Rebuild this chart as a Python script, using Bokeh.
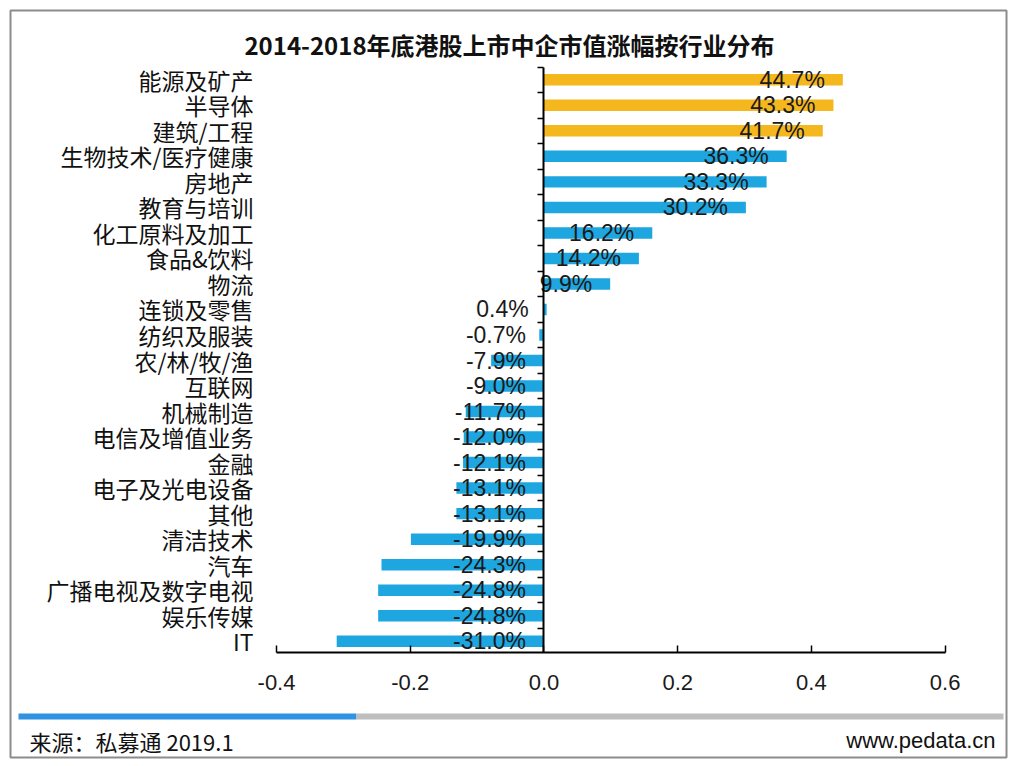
from bokeh.plotting import figure
from bokeh.models import (LinearAxis, FixedTicker, PrintfTickFormatter, Label,
                          BoxAnnotation, ColumnDataSource, Range1d)
from bokeh.core.properties import value
from bokeh.embed import file_html
from bokeh.resources import INLINE

# ---------------- data ----------------
categories = ["能源及矿产", "半导体", "建筑/工程", "生物技术/医疗健康", "房地产",
              "教育与培训", "化工原料及加工", "食品&饮料", "物流", "连锁及零售",
              "纺织及服装", "农/林/牧/渔", "互联网", "机械制造", "电信及增值业务",
              "金融", "电子及光电设备", "其他", "清洁技术", "汽车",
              "广播电视及数字电视", "娱乐传媒", "IT"]
growth_pct = [44.7, 43.3, 41.7, 36.3, 33.3, 30.2, 16.2, 14.2, 9.9, 0.4,
              -0.7, -7.9, -9.0, -11.7, -12.0, -12.1, -13.1, -13.1, -19.9, -24.3,
              -24.8, -24.8, -31.0]
highlighted = ["能源及矿产", "半导体", "建筑/工程"]
x_ticks = [-0.4, -0.2, 0.0, 0.2, 0.4, 0.6]
title_text = "2014-2018年底港股上市中企市值涨幅按行业分布"
source_text = "来源：私募通 2019.1"
site_text = "www.pedata.cn"

ORANGE = "#F5B71E"
BLUE = "#1DA6E0"
CJK = "Noto Sans CJK SC"
LAT = "Liberation Sans"

n = len(categories)
ypos = [n - 1 - i for i in range(n)]
vals = [v / 100.0 for v in growth_pct]
colors = [ORANGE if c in highlighted else BLUE for c in categories]
label_x = [max(v, 0.0) for v in vals]
label_txt = ["%.1f%%" % v for v in growth_pct]

src = ColumnDataSource(dict(y=ypos, v=vals, color=colors, lx=label_x, lt=label_txt))

p = figure(width=1012, height=762, output_backend="svg", toolbar_location=None,
           x_axis_type=None, y_axis_type=None,
           x_range=Range1d(-0.7979, 0.6918), y_range=Range1d(-4.557, 24.716),
           min_border_left=10, min_border_right=6, min_border_top=10, min_border_bottom=5)
p.outline_line_color = "#8c8c8c"
p.outline_line_width = 2
p.background_fill_color = "white"
p.border_fill_color = "white"

p.hbar(y="y", left=0, right="v", height=0.45, fill_color="color", line_color=None, source=src)
p.text(x="lx", y="y", text="lt", source=src, x_offset=-18, text_align="right",
       text_baseline="middle", text_font=value(LAT), text_font_size="23px",
       text_color="#1a1a1a")

x_bottom = -0.443

# category labels axis
cat_axis = LinearAxis(fixed_location=-0.4, ticker=FixedTicker(ticks=ypos),
                      major_label_overrides={y: c for y, c in zip(ypos, categories)})
cat_axis.axis_line_color = None
cat_axis.major_tick_line_color = None
cat_axis.minor_tick_line_color = None
cat_axis.major_label_standoff = 17
cat_axis.major_label_text_font = CJK
cat_axis.major_label_text_font_size = "23px"
cat_axis.major_label_text_color = "#111111"
p.add_layout(cat_axis, "left")

# vertical axis at zero with boundary ticks
zero_axis = LinearAxis(fixed_location=0, ticker=FixedTicker(ticks=[y + 0.5 for y in ypos]),
                       bounds=(x_bottom, ypos[0] + 0.5))
zero_axis.axis_line_color = "black"
zero_axis.axis_line_width = 2
zero_axis.major_tick_line_color = "black"
zero_axis.major_tick_line_width = 1.5
zero_axis.major_tick_out = 6
zero_axis.major_tick_in = 0
zero_axis.minor_tick_line_color = None
zero_axis.major_label_text_font_size = "0px"
zero_axis.major_label_text_alpha = 0
p.add_layout(zero_axis, "left")

# x axis
xaxis = LinearAxis(fixed_location=x_bottom, ticker=FixedTicker(ticks=x_ticks),
                   formatter=PrintfTickFormatter(format="%.1f"), bounds=(x_ticks[0], x_ticks[-1]))
xaxis.axis_line_color = "black"
xaxis.axis_line_width = 2
xaxis.major_tick_line_color = "black"
xaxis.major_tick_line_width = 1.5
xaxis.major_tick_in = 7
xaxis.major_tick_out = 0
xaxis.minor_tick_line_color = None
xaxis.major_label_standoff = 22
xaxis.major_label_text_font = LAT
xaxis.major_label_text_font_size = "22px"
xaxis.major_label_text_color = "#1a1a1a"
p.add_layout(xaxis, "below")

# title
p.add_layout(Label(x=499, y=713, x_units="screen", y_units="screen", text=title_text,
                   text_align="center", text_baseline="middle", text_font=CJK,
                   text_font_size="24px", text_font_style="bold", text_color="#111111"))

# footer bar
p.add_layout(BoxAnnotation(left=8, right=346, bottom=38, top=44,
                           left_units="screen", right_units="screen",
                           bottom_units="screen", top_units="screen",
                           fill_color="#3093E2", fill_alpha=1, line_color=None))
p.add_layout(BoxAnnotation(left=346, right=993, bottom=38, top=44,
                           left_units="screen", right_units="screen",
                           bottom_units="screen", top_units="screen",
                           fill_color="#BEBEBE", fill_alpha=1, line_color=None))

p.add_layout(Label(x=19, y=17, x_units="screen", y_units="screen", text=source_text,
                   text_align="left", text_baseline="middle", text_font=CJK,
                   text_font_size="22px", text_color="#111111"))
p.add_layout(Label(x=985, y=17, x_units="screen", y_units="screen", text=site_text,
                   text_align="right", text_baseline="middle", text_font=LAT,
                   text_font_size="22px", text_color="#111111"))

open("out.html", "w").write(file_html(p, INLINE))
